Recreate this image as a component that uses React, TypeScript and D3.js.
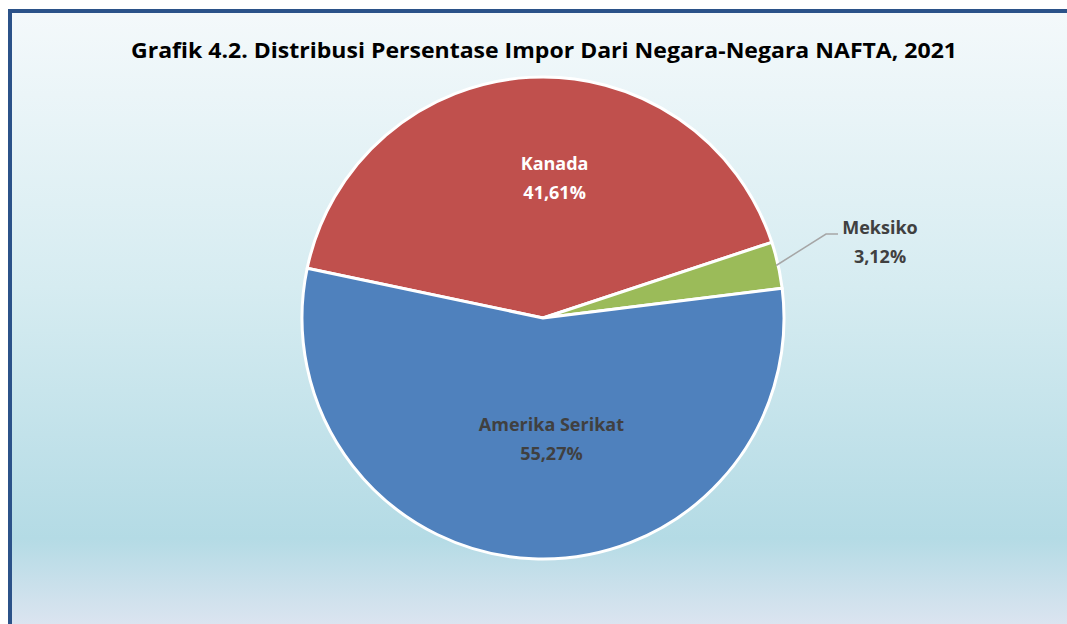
import React from 'react';
import * as d3 from 'd3';

const countries = ['Kanada', 'Meksiko', 'Amerika Serikat'];
const shares = [41.61, 3.12, 55.27];
const shareLabels = ['41,61%', '3,12%', '55,27%'];
const colors = ['#C0504D', '#9BBB59', '#4F81BD'];
const labelColors = ['#ffffff', '#404040', '#404040'];
// nudges for the inside labels (Excel's best-fit placement)
const labelNudge = [[19, -12], [0, 0], [14, -16]];

const title = 'Grafik 4.2. Distribusi Persentase Impor Dari Negara-Negara NAFTA, 2021';

const W = 1067;
const H = 624;
const cx = 543;
const cy = 318;
const radius = 241;
const startDeg = -78.1;

const App = () => {
  const data = countries.map((c, i) => ({ name: c, value: shares[i], label: shareLabels[i], color: colors[i], text: labelColors[i] }));
  const pie = d3.pie<any>().sort(null).value(d => d.value)
    .startAngle(startDeg * Math.PI / 180)
    .endAngle(startDeg * Math.PI / 180 + 2 * Math.PI);
  const arcs = pie(data);
  const arc = d3.arc<any>().innerRadius(0).outerRadius(radius);
  const labelArc = d3.arc<any>().innerRadius(radius * 0.55).outerRadius(radius * 0.55);
  const font = "'Open Sans', 'Noto Sans', sans-serif";

  // Meksiko sits outside with a leader line
  const mek = arcs[1];
  const mekMid = (mek.startAngle + mek.endAngle) / 2;
  const edge = [Math.sin(mekMid) * (radius - 2), -Math.cos(mekMid) * (radius - 2)];

  return (
    <svg width={W} height={H} style={{ position: 'fixed', left: 0, top: 0 }}>
      <defs>
        <linearGradient id="bg" gradientUnits="userSpaceOnUse" x1="0" y1="11" x2="0" y2="624">
          <stop offset="0" stopColor="#f4f9fb" />
          <stop offset="0.45" stopColor="#d6ecf1" />
          <stop offset="0.86" stopColor="#b4dbe5" />
          <stop offset="1" stopColor="#dbe4f0" />
        </linearGradient>
      </defs>
      <rect x={0} y={0} width={W} height={H} fill="#ffffff" />
      <rect x={10} y={11} width={W + 20} height={H + 20} fill="url(#bg)" stroke="#2b5289" strokeWidth={4} />
      <text x={544} y={58} textAnchor="middle" fontFamily={font} fontWeight="bold" fontSize={22}
        textLength={826} lengthAdjust="spacingAndGlyphs" fill="#000000">{title}</text>
      <g transform={`translate(${cx},${cy})`}>
        {arcs.map((a, i) => (
          <path key={i} d={arc(a) || ''} fill={a.data.color} stroke="#ffffff" strokeWidth={3} strokeLinejoin="round" />
        ))}
        {arcs.map((a, i) => {
          if (i === 1) return null;
          const [cxl, cyl] = labelArc.centroid(a);
          const lx = cxl + labelNudge[i][0];
          const ly = cyl + labelNudge[i][1];
          return (
            <text key={i} x={lx} y={ly} textAnchor="middle" fontFamily={font} fontWeight="bold" fontSize={18} fill={a.data.text}>
              <tspan x={lx} dy="-0.2em">{a.data.name}</tspan>
              <tspan x={lx} dy="1.6em">{a.data.label}</tspan>
            </text>
          );
        })}
        <polyline points={`${edge[0]},${edge[1]} ${826 - cx},${234 - cy} ${838 - cx},${234 - cy}`} fill="none" stroke="#a6a6a6" strokeWidth={1.5} />
        <text x={880 - cx} y={0} textAnchor="middle" fontFamily={font} fontWeight="bold" fontSize={18} fill="#404040">
          <tspan x={880 - cx} y={234 - cy}>{data[1].name}</tspan>
          <tspan x={880 - cx} y={263 - cy}>{data[1].label}</tspan>
        </text>
      </g>
    </svg>
  );
};

export default App;
